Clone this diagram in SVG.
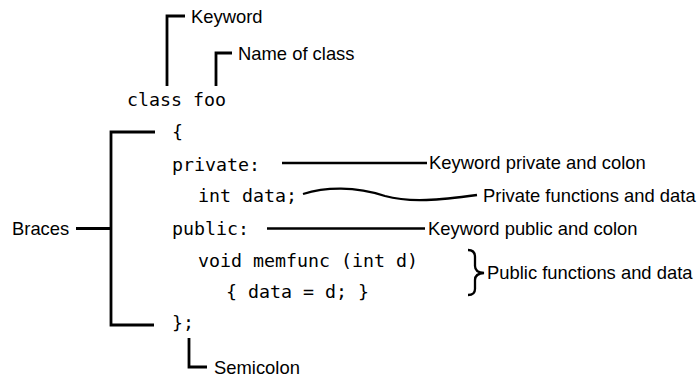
<svg xmlns="http://www.w3.org/2000/svg" width="700" height="379" viewBox="0 0 700 379">
<style>
.code{font-family:"DejaVu Sans Mono","Liberation Mono",monospace;font-size:18.3px;fill:#000}
.lbl{font-family:"Liberation Sans",Arial,sans-serif;font-size:18.4px;fill:#000}
.ln{fill:none;stroke:#000;stroke-width:2.8;stroke-linejoin:miter;stroke-linecap:butt}
.thin{fill:none;stroke:#000;stroke-width:2.3}
</style>
<rect width="700" height="379" fill="#fff"/>
<g id="code">
<text class="code" x="127" y="106">class foo</text>
<text class="code" x="172" y="138">{</text>
<text class="code" x="172" y="171">private:</text>
<text class="code" x="198" y="202">int data;</text>
<text class="code" x="172" y="235">public:</text>
<text class="code" x="198" y="267">void memfunc (int d)</text>
<text class="code" x="226" y="298">{ data = d; }</text>
<text class="code" x="172" y="329">};</text>
</g>
<g id="label-keyword"><text class="lbl" x="191" y="23">Keyword</text></g>
<g id="label-name"><text class="lbl" x="238" y="60">Name of class</text></g>
<g id="label-braces"><text class="lbl" x="12" y="235">Braces</text></g>
<g id="label-private-kw"><text class="lbl" x="429" y="169">Keyword private and colon</text></g>
<g id="label-private-data"><text class="lbl" x="483" y="202">Private functions and data</text></g>
<g id="label-public-kw"><text class="lbl" x="428" y="235">Keyword public and colon</text></g>
<g id="label-public-data"><text class="lbl" x="487" y="279">Public functions and data</text></g>
<g id="label-semicolon"><text class="lbl" x="214" y="374">Semicolon</text></g>
<g id="connectors">
<path class="ln" d="M167,86 V16 H185"/>
<path class="ln" d="M216,86 V53 H232"/>
<path class="ln" d="M155,132 H111 V325 H154"/>
<path class="ln" d="M76,228.5 H111"/>
<path class="thin" d="M282,163 H427"/>
<path class="thin" d="M303,194 C325,187 355,186 385,196 C410,203 440,200 477,195"/>
<path class="thin" d="M267,228.5 H425"/>
<path class="thin" d="M468,250 Q475,250 475,257 L475,266 Q475,272.5 484,273 Q475,273.5 475,280 L475,289 Q475,295 468,295"/>
<path class="ln" d="M189,338 V367 H207"/>
</g>
</svg>
